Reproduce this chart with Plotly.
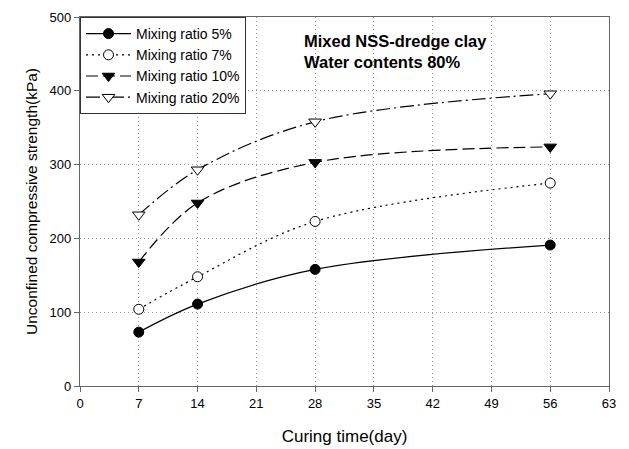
import plotly.graph_objects as go

days = [7, 14, 28, 56]
names = ["Mixing ratio 5%", "Mixing ratio 7%", "Mixing ratio 10%", "Mixing ratio 20%"]
r5 = [73, 111, 158, 191]
r7 = [104, 148, 223, 275]
r10 = [168, 248, 303, 324]
r20 = [232, 293, 358, 396]
x_ticks = [0, 7, 14, 21, 28, 35, 42, 49, 56, 63]
y_ticks = [0, 100, 200, 300, 400, 500]

styles = [
    dict(symbol="circle", fill="black", dash="solid", size=10),
    dict(symbol="circle", fill="white", dash="2px,4px", size=10),
    dict(symbol="triangle-down", fill="black", dash="12px,5px", size=11),
    dict(symbol="triangle-down", fill="white", dash="14px,4px,2px,4px", size=11),
]

fig = go.Figure()
for name, vals, st in zip(names, [r5, r7, r10, r20], styles):
    fig.add_trace(go.Scatter(
        x=days, y=vals, name=name, mode="lines+markers",
        line=dict(color="black", width=1.2, dash=st["dash"], shape="spline", smoothing=1.0),
        marker=dict(symbol=st["symbol"], size=st["size"], color=st["fill"],
                    line=dict(color="black", width=1)),
    ))

fig.add_annotation(
    x=0.42, y=0.965, xref="paper", yref="paper", xanchor="left", yanchor="top",
    text="<b>Mixed NSS-dredge clay<br>Water contents 80%</b>", showarrow=False, align="left",
    font=dict(size=16.5, color="black", family="Liberation Sans, Arial"),
)

axis_common = dict(
    showline=True, linecolor="#666666", linewidth=1.2, mirror=True,
    ticks="outside", ticklen=5, tickcolor="#666666",
    showgrid=True, gridcolor="#999999", griddash="1px,3px", gridwidth=1,
    zeroline=False, tickfont=dict(size=13, color="black"), automargin=False,
)

fig.update_layout(
    width=629, height=449,
    margin=dict(l=80, r=20, t=17, b=63),
    paper_bgcolor="white", plot_bgcolor="white",
    font=dict(family="Liberation Sans, Arial", color="black"),
    xaxis=dict(range=[0, 63], tickvals=x_ticks,
               title=dict(text="Curing time(day)", font=dict(size=17), standoff=20), **axis_common),
    yaxis=dict(range=[0, 500], tickvals=y_ticks,
               title=dict(text="Unconfined compressive strength(kPa)", font=dict(size=15.5), standoff=8), **axis_common),
    legend=dict(x=0, y=1, xanchor="left", yanchor="top", bordercolor="#333333", borderwidth=1,
                bgcolor="white", font=dict(size=14), tracegroupgap=0, itemwidth=45),
    showlegend=True,
)

fig.write_html("out.html")
